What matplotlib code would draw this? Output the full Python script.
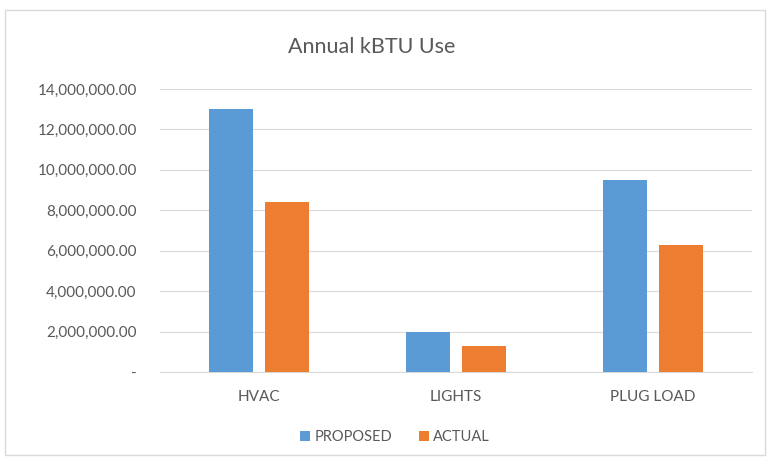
import matplotlib
matplotlib.use("Agg")
import matplotlib.pyplot as plt
import numpy as np
from matplotlib.patches import Rectangle

categories = ["HVAC", "LIGHTS", "PLUG LOAD"]
proposed = [13000000, 2000000, 9500000]
actual = [8400000, 1300000, 6300000]
yticks = [0, 2000000, 4000000, 6000000, 8000000, 10000000, 12000000, 14000000]

plt.rcParams['font.family'] = ['Lato', 'DejaVu Sans']
fig = plt.figure(figsize=(7.67, 4.61), dpi=100)
fig.patches.append(Rectangle((0.007, 0.013), 0.99, 0.965, transform=fig.transFigure,
                             fill=False, edgecolor='#d9d9d9', linewidth=1))
ax = fig.add_axes([0.209, 0.193, 0.771, 0.614])
x = np.arange(len(categories))
w = 0.225
gap = 0.06
ax.bar(x - (w + gap) / 2, proposed, w, color='#5B9BD5', label='PROPOSED', zorder=3)
ax.bar(x + (w + gap) / 2, actual, w, color='#ED7D31', label='ACTUAL', zorder=3)
ax.set_xlim(-0.5, 2.5)
ax.set_ylim(0, 14000000)
ax.set_yticks(yticks)
ax.set_yticklabels(['-' if v == 0 else f"{v:,.2f}" for v in yticks])
ax.set_xticks(x)
ax.set_xticklabels(categories)
ax.grid(axis='y', color='#d9d9d9', linewidth=0.8, zorder=0)
for s in ['top', 'right', 'left']:
    ax.spines[s].set_visible(False)
ax.spines['bottom'].set_color('#d9d9d9')
ax.tick_params(axis='both', length=0, colors='#595959', labelsize=11)
ax.tick_params(axis='y', pad=17)
ax.tick_params(axis='x', pad=13)
fig.text(0.485, 0.898, "Annual kBTU Use", ha='center', va='center', fontsize=15.5, color='#595959')
fig.legend(loc='center', bbox_to_anchor=(0.515, 0.052), ncol=2, frameon=False,
           fontsize=10.5, labelcolor='#595959', handlelength=0.7, handleheight=0.7,
           handletextpad=0.3, columnspacing=1.8)
fig.savefig("out.png", dpi=100)
